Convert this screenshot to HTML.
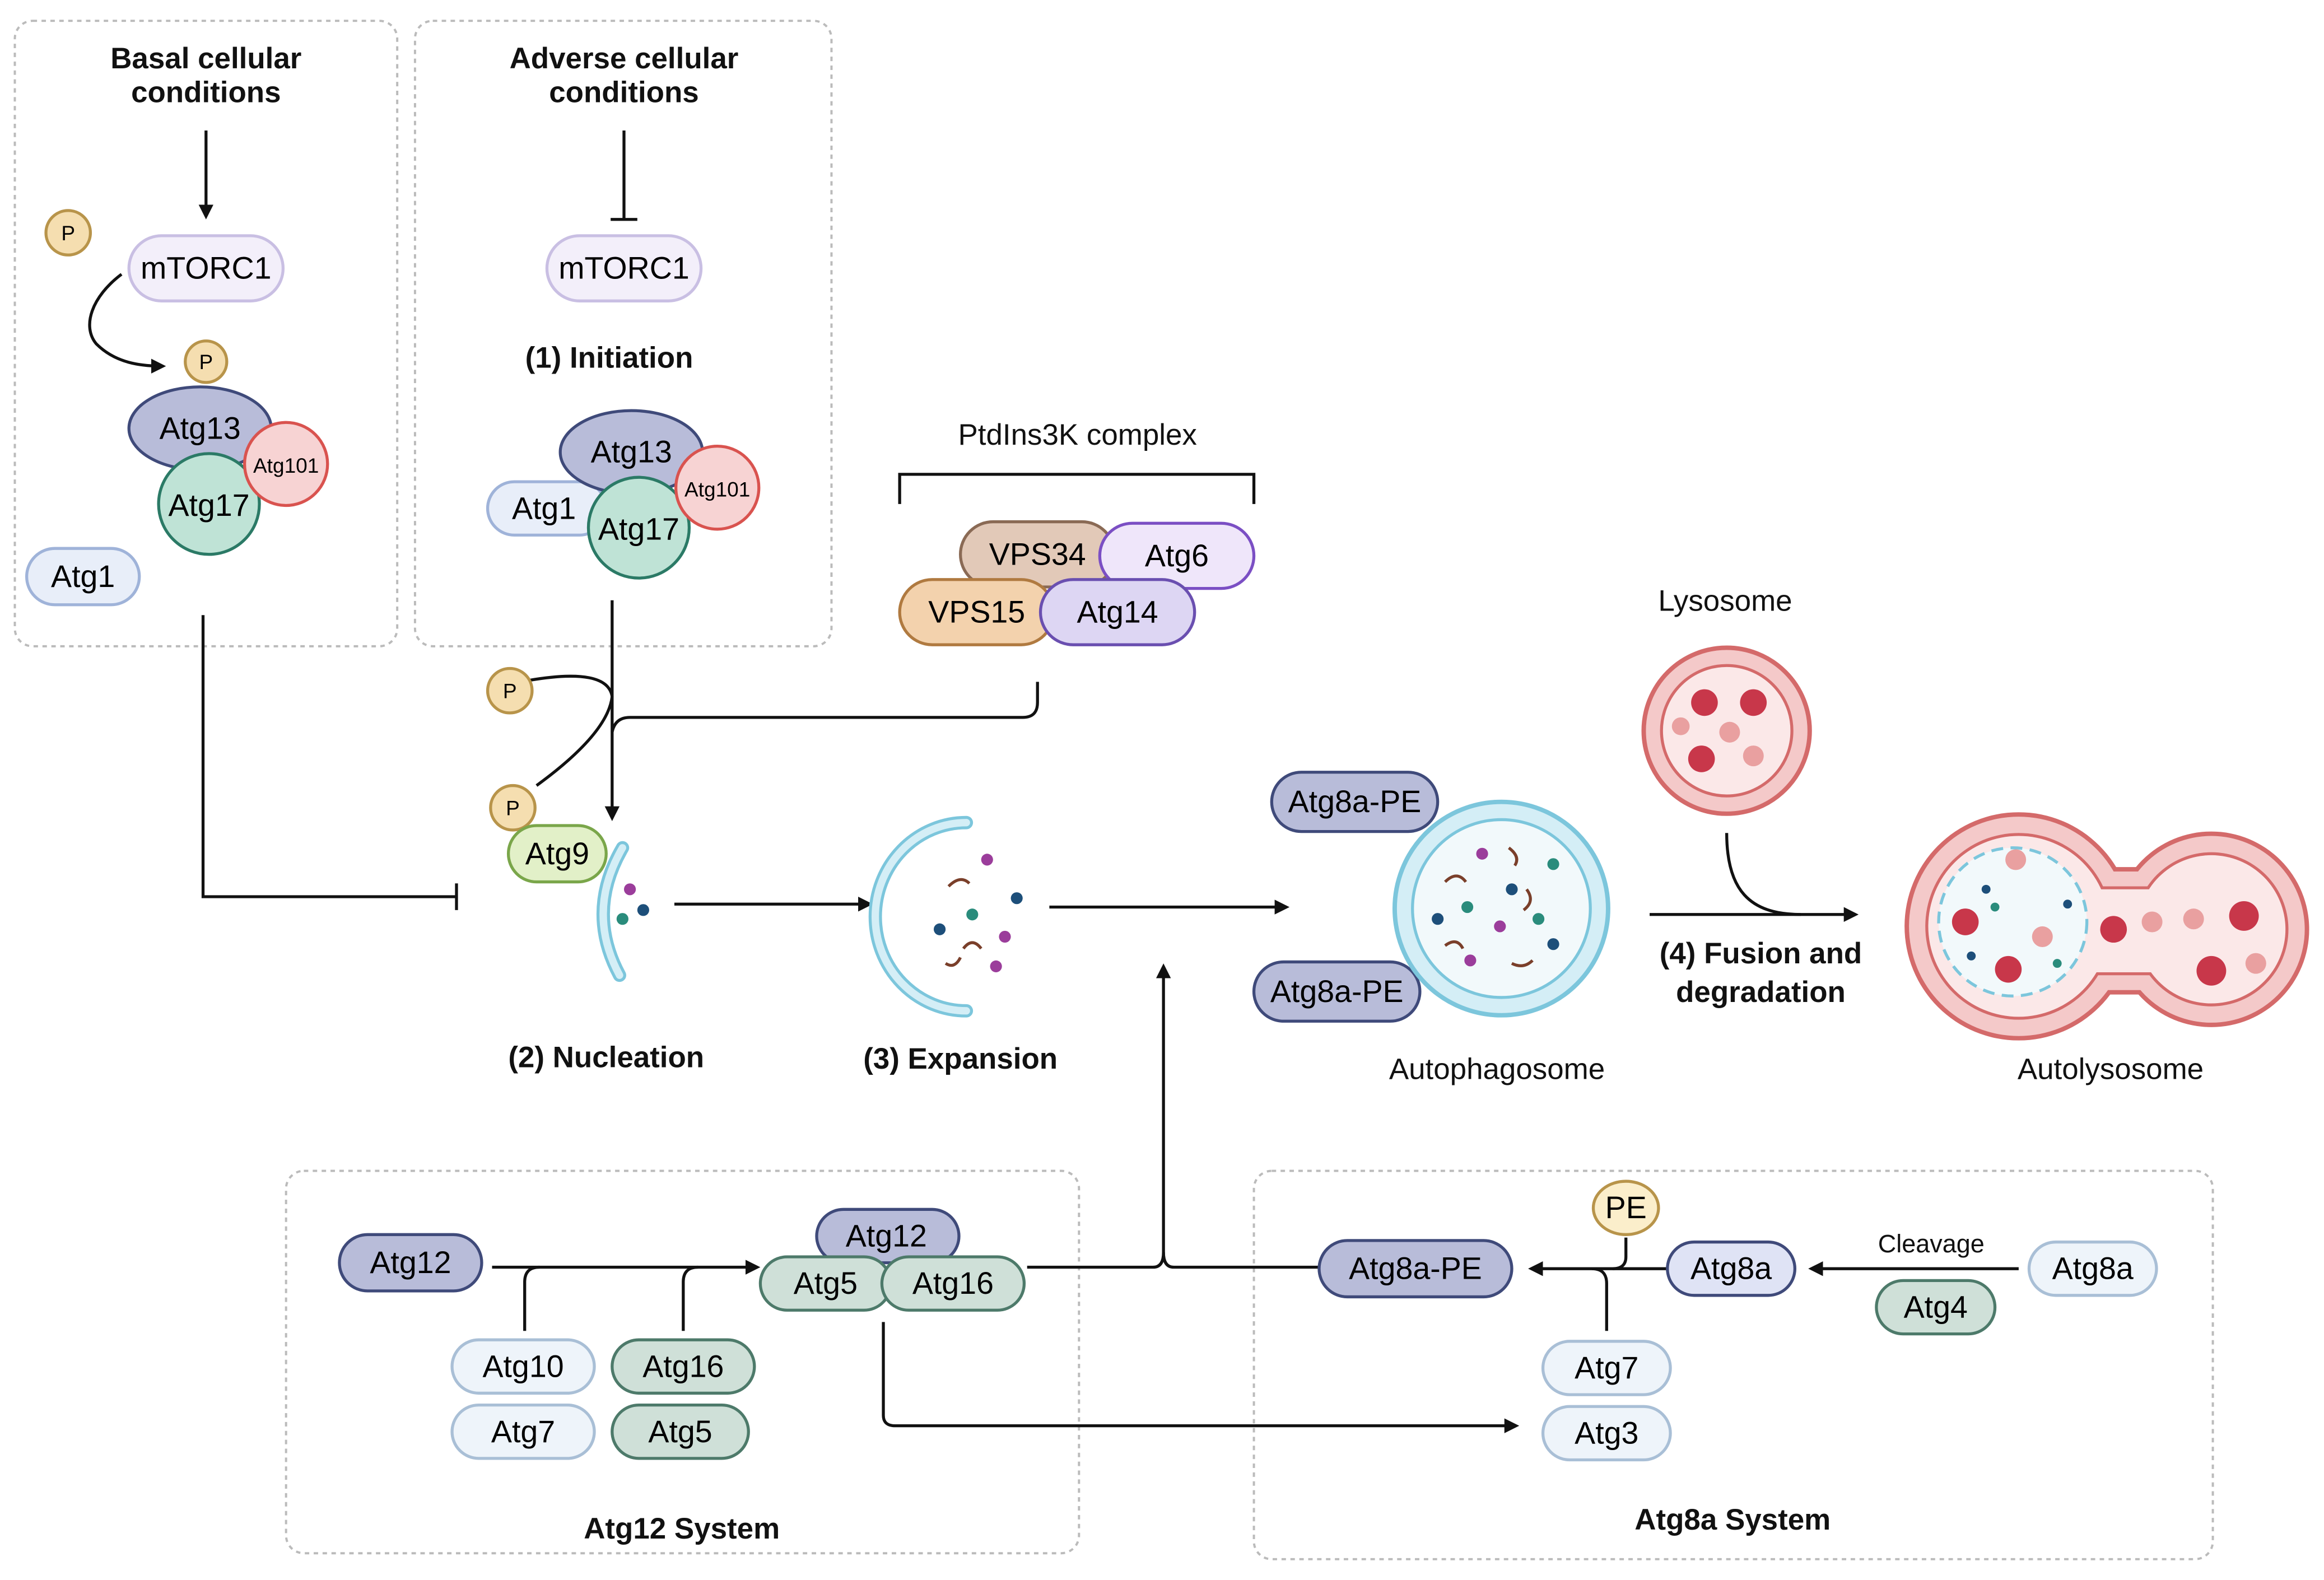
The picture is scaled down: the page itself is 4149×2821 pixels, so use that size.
<!DOCTYPE html>
<html><head><meta charset="utf-8"><style>
html,body{margin:0;padding:0;background:#fff;}
svg{display:block;}
text{font-family:"Liberation Sans",sans-serif;}
</style></head><body>
<svg width="4149" height="2821" viewBox="0 0 1568 1066" xmlns="http://www.w3.org/2000/svg">
<defs>
<marker id="ar" markerWidth="10" markerHeight="10" refX="8" refY="5" orient="auto" markerUnits="userSpaceOnUse"><path d="M0,0 L10,5 L0,10 z" fill="#111"/></marker>
</defs>
<rect width="1568" height="1066" fill="#fff"/>
<g fill="none" stroke="#bbb" stroke-width="1.5" stroke-dasharray="3,3">
<rect x="10" y="14" width="258" height="422" rx="12"/>
<rect x="280" y="14" width="281" height="422" rx="12"/>
<rect x="193" y="790" width="535" height="258" rx="12"/>
<rect x="846" y="790" width="647" height="262" rx="12"/>
</g>
<g font-weight="bold" font-size="20" text-anchor="middle" fill="#111">
<text x="139" y="46">Basal cellular</text><text x="139" y="69">conditions</text>
<text x="421" y="46">Adverse cellular</text><text x="421" y="69">conditions</text>
<text x="411" y="248">(1) Initiation</text>
<text x="409" y="720">(2) Nucleation</text>
<text x="648" y="721">(3) Expansion</text>
<text x="1188" y="650">(4) Fusion and</text><text x="1188" y="676">degradation</text>
<text x="460" y="1038">Atg12 System</text>
<text x="1169" y="1032">Atg8a System</text>
</g>
<g font-size="20" text-anchor="middle" fill="#111">
<text x="727" y="300">PtdIns3K complex</text>
<text x="1164" y="412">Lysosome</text>
<text x="1010" y="728">Autophagosome</text>
<text x="1424" y="728">Autolysosome</text>
<text x="1303" y="845" font-size="17">Cleavage</text>
</g>
<g stroke="#111" stroke-width="2" fill="none">
<line x1="139" y1="88" x2="139" y2="146" marker-end="url(#ar)"/>
<line x1="421" y1="88" x2="421" y2="148"/><line x1="412" y1="148" x2="430" y2="148"/>
<path d="M82,185 C62,200 55,220 65,232 C78,245 95,247 110,247" marker-end="url(#ar)"/>
<polyline points="607,340 607,320 846,320 846,340"/>
<path d="M137,415 V605 H308"/><line x1="308" y1="596" x2="308" y2="614"/>
<line x1="413" y1="405" x2="413" y2="552" marker-end="url(#ar)"/>
<path d="M700,460 V474 Q700,484 690,484 H425 Q415,484 413,494"/>
<path d="M357,459 Q410,450 413,470 Q410,495 362,530"/>
<line x1="455" y1="610" x2="587" y2="610" marker-end="url(#ar)"/>
<line x1="708" y1="612" x2="868" y2="612" marker-end="url(#ar)"/>
<line x1="1113" y1="617" x2="1252" y2="617" marker-end="url(#ar)"/>
<path d="M1165,562 C1165,600 1180,617 1215,617"/>
<path d="M693,855 H778 Q785,855 785,845 V652" marker-end="url(#ar)"/>
<path d="M785,845 Q785,855 792,855 H890"/>
<line x1="332" y1="855" x2="511" y2="855" marker-end="url(#ar)"/>
<path d="M354,898 V865 Q354,855 364,855"/>
<path d="M461,898 V865 Q461,855 471,855"/>
<line x1="1125" y1="856" x2="1033" y2="856" marker-end="url(#ar)"/>
<path d="M1097,835 V848 Q1097,856 1088,856"/>
<path d="M1084,898 V866 Q1084,856 1074,856"/>
<line x1="1362" y1="856" x2="1222" y2="856" marker-end="url(#ar)"/>
<path d="M596,892 V955 Q596,962 604,962 H1023" marker-end="url(#ar)"/>
</g>
<g font-size="21" text-anchor="middle" stroke-width="2">
<g fill="#f3effa" stroke="#c9bfe3"><rect x="87" y="159" width="104" height="44" rx="22"/><rect x="369" y="159" width="104" height="44" rx="22"/></g>
<text x="139" y="188">mTORC1</text><text x="421" y="188">mTORC1</text>
<g fill="#e8eef9" stroke="#9fb3d9"><rect x="18" y="370" width="76" height="38" rx="19"/><rect x="329" y="325" width="80" height="36" rx="18"/></g>
<text x="56" y="396">Atg1</text><text x="367" y="350">Atg1</text>
<g fill="#b8bcd9" stroke="#3f4a7a"><ellipse cx="135" cy="289" rx="48" ry="28"/><ellipse cx="426" cy="305" rx="48" ry="28"/></g>
<text x="135" y="296">Atg13</text><text x="426" y="312">Atg13</text>
<g fill="#bfe3d6" stroke="#2b7a66"><circle cx="141" cy="340" r="34"/><circle cx="431" cy="356" r="34"/></g>
<text x="141" y="348">Atg17</text><text x="431" y="364">Atg17</text>
<g fill="#f7d3d3" stroke="#d9534f"><circle cx="193" cy="313" r="28"/><circle cx="484" cy="329" r="28"/></g>
<text x="193" y="319" font-size="14">Atg101</text><text x="484" y="335" font-size="14">Atg101</text>
<g fill="#f5deb0" stroke="#b8944a"><circle cx="46" cy="157" r="15"/><circle cx="139" cy="244" r="14"/><circle cx="344" cy="466" r="15"/><circle cx="346" cy="545" r="15"/></g>
<g font-size="14"><text x="46" y="162">P</text><text x="139" y="249">P</text><text x="344" y="471">P</text><text x="346" y="550">P</text></g>
<rect x="648" y="352" width="104" height="44" rx="22" fill="#e2c9b8" stroke="#8a6a55"/>
<rect x="742" y="353" width="104" height="44" rx="22" fill="#efe6fa" stroke="#7b4fc4"/>
<rect x="607" y="391" width="104" height="44" rx="22" fill="#f3d2ad" stroke="#b07a40"/>
<rect x="702" y="391" width="104" height="44" rx="22" fill="#ddd6f3" stroke="#6a4fb0"/>
<text x="700" y="381">VPS34</text><text x="794" y="382">Atg6</text><text x="659" y="420">VPS15</text><text x="754" y="420">Atg14</text>
<rect x="343" y="557" width="66" height="38" rx="19" fill="#e2f0c8" stroke="#7aa64a"/><text x="376" y="583">Atg9</text>
<g fill="#b8bcd9" stroke="#3f4a7a"><rect x="858" y="521" width="112" height="40" rx="20"/><rect x="846" y="649" width="112" height="40" rx="20"/>
<rect x="229" y="833" width="96" height="38" rx="19"/><rect x="551" y="816" width="96" height="36" rx="18"/><rect x="890" y="837" width="130" height="38" rx="19"/></g>
<text x="914" y="548">Atg8a-PE</text><text x="902" y="676">Atg8a-PE</text><text x="277" y="859">Atg12</text><text x="598" y="841">Atg12</text><text x="955" y="863">Atg8a-PE</text>
<g fill="#cfe0d8" stroke="#4d7a6a"><rect x="513" y="848" width="88" height="36" rx="18"/><rect x="595" y="848" width="96" height="36" rx="18"/>
<rect x="413" y="904" width="96" height="36" rx="18"/><rect x="413" y="948" width="92" height="36" rx="18"/><rect x="1266" y="864" width="80" height="36" rx="18"/></g>
<text x="557" y="873">Atg5</text><text x="643" y="873">Atg16</text><text x="461" y="929">Atg16</text><text x="459" y="973">Atg5</text><text x="1306" y="889">Atg4</text>
<g fill="#eef4fa" stroke="#a9bfd6"><rect x="305" y="904" width="96" height="36" rx="18"/><rect x="305" y="948" width="96" height="36" rx="18"/>
<rect x="1041" y="905" width="86" height="36" rx="18"/><rect x="1041" y="949" width="86" height="36" rx="18"/><rect x="1369" y="838" width="86" height="36" rx="18"/></g>
<text x="353" y="929">Atg10</text><text x="353" y="973">Atg7</text><text x="1084" y="930">Atg7</text><text x="1084" y="974">Atg3</text><text x="1412" y="863">Atg8a</text>
<rect x="1125" y="838" width="86" height="36" rx="18" fill="#dfe3f5" stroke="#3f4a7a"/><text x="1168" y="863">Atg8a</text>
<ellipse cx="1097" cy="815" rx="22" ry="18" fill="#fbeecb" stroke="#b8944a"/><text x="1097" y="822">PE</text>
</g>
<path d="M420,572 Q395,615 418,658" fill="none" stroke="#7cc6dc" stroke-width="9" stroke-linecap="round"/>
<path d="M420,572 Q395,615 418,658" fill="none" stroke="#d4eef6" stroke-width="5" stroke-linecap="round"/>
<circle cx="425" cy="600" r="4" fill="#9b3d9b"/><circle cx="434" cy="614" r="4" fill="#1d4f7a"/><circle cx="420" cy="620" r="4" fill="#2a8c7c"/>
<path d="M652,555 A60,62 0 0 0 652,682" fill="none" stroke="#7cc6dc" stroke-width="9" stroke-linecap="round"/>
<path d="M652,555 A60,62 0 0 0 652,682" fill="none" stroke="#d4eef6" stroke-width="5" stroke-linecap="round"/>
<g fill="#9b3d9b"><circle cx="666" cy="580" r="4"/><circle cx="678" cy="632" r="4"/><circle cx="672" cy="652" r="4"/></g>
<g fill="#1d4f7a"><circle cx="686" cy="606" r="4"/><circle cx="634" cy="627" r="4"/></g>
<circle cx="656" cy="617" r="4" fill="#2a8c7c"/>
<g stroke="#7a3f2a" stroke-width="2" fill="none"><path d="M640,598 q8,-8 14,-2"/><path d="M650,640 q6,-8 12,0"/><path d="M638,650 q6,4 10,-4"/></g>
<circle cx="1013" cy="613" r="72" fill="#d4eef6" stroke="#7cc6dc" stroke-width="3"/>
<circle cx="1013" cy="613" r="60" fill="#f2f9fb" stroke="#7cc6dc" stroke-width="2"/>
<g fill="#1d4f7a"><circle cx="1020" cy="600" r="4"/><circle cx="1048" cy="637" r="4"/><circle cx="970" cy="620" r="4"/></g>
<g fill="#2a8c7c"><circle cx="1048" cy="583" r="4"/><circle cx="990" cy="612" r="4"/><circle cx="1038" cy="620" r="4"/></g>
<g fill="#9b3d9b"><circle cx="1000" cy="576" r="4"/><circle cx="1012" cy="625" r="4"/><circle cx="992" cy="648" r="4"/></g>
<g stroke="#7a3f2a" stroke-width="2" fill="none"><path d="M975,595 q8,-8 14,0"/><path d="M1018,572 q8,6 4,12"/><path d="M1030,600 q6,8 -2,14"/><path d="M975,638 q8,-6 12,2"/><path d="M1020,650 q8,4 14,-2"/></g>
<circle cx="1165" cy="493" r="56" fill="#f4c9c9" stroke="#d46a6a" stroke-width="3"/>
<circle cx="1165" cy="493" r="44" fill="#fbe8e8" stroke="#d46a6a" stroke-width="2"/>
<g fill="#c8374a"><circle cx="1150" cy="474" r="9"/><circle cx="1183" cy="474" r="9"/><circle cx="1148" cy="512" r="9"/></g>
<g fill="#e9a0a0"><circle cx="1167" cy="494" r="7"/><circle cx="1134" cy="490" r="6"/><circle cx="1183" cy="510" r="7"/></g>
<!-- autolysosome -->
<g fill="#d46a6a"><circle cx="1362" cy="625" r="77"/><circle cx="1492" cy="627" r="66"/><rect x="1400" y="585" width="60" height="86"/></g>
<g fill="#f4c9c9"><circle cx="1362" cy="625" r="74"/><circle cx="1492" cy="627" r="63"/><rect x="1400" y="588" width="60" height="80"/></g>
<g fill="#d46a6a"><circle cx="1362" cy="625" r="63"/><circle cx="1492" cy="627" r="52"/><rect x="1400" y="598" width="60" height="60"/></g>
<g fill="#fbe8e8"><circle cx="1362" cy="625" r="61"/><circle cx="1492" cy="627" r="50"/><rect x="1400" y="600" width="60" height="56"/></g>
<circle cx="1358" cy="622" r="50" fill="#f2f9fb" stroke="#7cc6dc" stroke-width="2" stroke-dasharray="8,5"/>
<g fill="#c8374a"><circle cx="1326" cy="622" r="9"/><circle cx="1355" cy="654" r="9"/><circle cx="1426" cy="627" r="9"/><circle cx="1492" cy="655" r="10"/><circle cx="1514" cy="618" r="10"/></g>
<g fill="#e9a0a0"><circle cx="1360" cy="580" r="7"/><circle cx="1378" cy="632" r="7"/><circle cx="1452" cy="622" r="7"/><circle cx="1480" cy="620" r="7"/><circle cx="1522" cy="650" r="7"/></g>
<g fill="#1d4f7a"><circle cx="1340" cy="600" r="3"/><circle cx="1395" cy="610" r="3"/><circle cx="1330" cy="645" r="3"/></g>
<g fill="#2a8c7c"><circle cx="1346" cy="612" r="3"/><circle cx="1388" cy="650" r="3"/></g>
</svg>
</body></html>
